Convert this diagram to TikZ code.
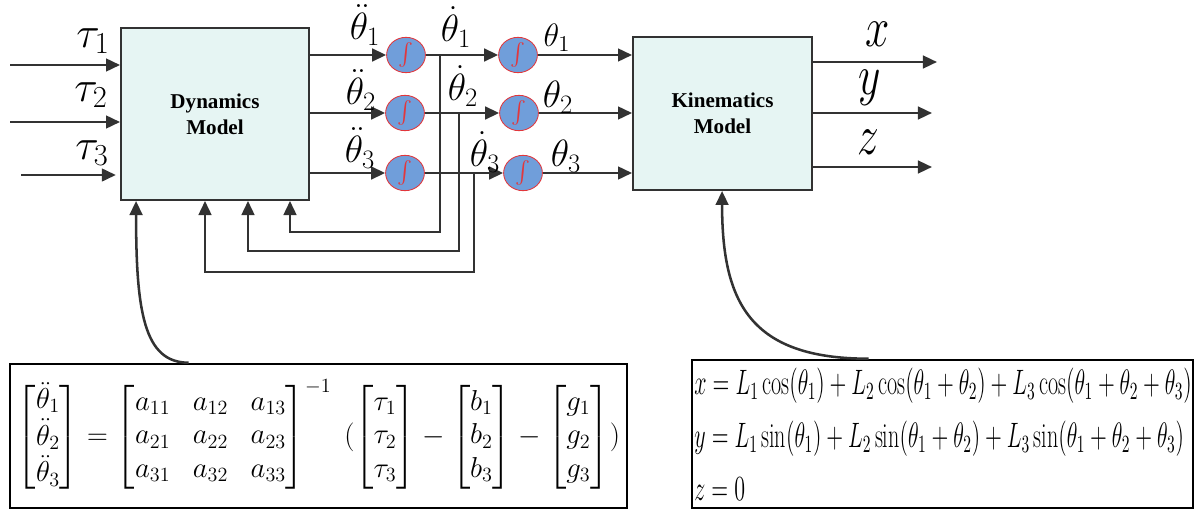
\documentclass[tikz,border=0pt]{standalone}
\usepackage{fix-cm}
\usepackage{amsmath,amssymb}
\usepackage{fontspec}
\newfontfamily\blockfont{Liberation Serif}
\usepackage{tikz}
\usetikzlibrary{shapes,arrows.meta,calc}
\tikzset{
  wire/.style={
    draw=linegray, line width=1.8pt,
    -{Triangle[length=10pt,width=9pt]},
  },
  block/.style={
    draw=linegray, fill=boxfill, line width=1.3pt, inner sep=0pt,
    align=center, font=\blockfont\bfseries\fontsize{15}{18.5}\selectfont,
  },
  integ/.style={
    ellipse, draw=intedge, fill=intfill, line width=0.6pt, inner sep=0pt,
    minimum width=0.97cm, minimum height=0.82cm, text=intedge,
    font=\fontsize{16}{18}\selectfont,
  },
  siglabel/.style={inner sep=0pt, font=\fontsize{31}{35}\selectfont},
  anglabel/.style={inner sep=0pt, font=\fontsize{27}{31}\selectfont},
  eqbox/.style={draw=black, line width=1.8pt, inner sep=0pt},
}

\begin{document}
\begin{tikzpicture}[x=0.025cm, y=-0.025cm]
% Defining colors
\definecolor{linegray}{RGB}{50,50,50}
\definecolor{boxfill}{RGB}{230,245,243}
\definecolor{intfill}{RGB}{112,158,218}
\definecolor{intedge}{RGB}{225,55,60}

\useasboundingbox (0,0) rectangle (1201,512);

% =:=:=:=:=:=:=:=:=:=:=:=:=:=:=:=:=:=:=
% Blocks
% =:=:=:=:=:=:=:=:=:=:=:=:=:=:=:=:=:=:=
\node[block, minimum width=4.7cm, minimum height=4.3cm]
    (dyn) at (215,114) {Dynamics\\Model};
\node[block, minimum width=4.475cm, minimum height=3.825cm]
    (kin) at (722.5,113.5) {Kinematics\\Model};

% integrators
\node[integ] (intA1) at (406,55) {$\int$};
\node[integ] (intA2) at (405,113) {$\int$};
\node[integ] (intA3) at (405,173) {$\int$};
\node[integ] (intB1) at (518,55) {$\int$};
\node[integ] (intB2) at (519,113) {$\int$};
\node[integ] (intB3) at (523,173) {$\int$};

% =:=:=:=:=:=:=:=:=:=:=:=:=:=:=:=:=:=:=
% Torque inputs
% =:=:=:=:=:=:=:=:=:=:=:=:=:=:=:=:=:=:=
\coordinate (tauin1) at (10,65);
\coordinate (tauin2) at (10,122);
\coordinate (tauin3) at (21,175);
\draw[wire] (tauin1) -- (tauin1 -| dyn.west);
\draw[wire] (tauin2) -- (tauin2 -| dyn.west);
\draw[wire] (tauin3) -- ([xshift=-3pt]tauin3 -| dyn.west);

\node[siglabel] (taulab1) at (93,41) {$\tau_1$};
\node[siglabel] (taulab2) at (91,95) {$\tau_2$};
\node[siglabel] (taulab3) at (92,153) {$\tau_3$};

% =:=:=:=:=:=:=:=:=:=:=:=:=:=:=:=:=:=:=
% Integrator chain
% =:=:=:=:=:=:=:=:=:=:=:=:=:=:=:=:=:=:=
\draw[wire] (dyn.east |- intA1) -- (intA1);
\draw[wire] (dyn.east |- intA2) -- (intA2);
\draw[wire] (dyn.east |- intA3) -- (intA3);
\draw[wire] (intA1) -- (intB1);
\draw[wire] (intA2) -- (intB2);
\draw[wire] (intA3) -- (intB3);
\draw[wire] (intB1) -- (intB1 -| kin.west);
\draw[wire] (intB2) -- (intB2 -| kin.west);
\draw[wire] (intB3) -- (intB3 -| kin.west);

\node[anglabel] (accl1) at (365,25) {$\ddot{\theta}_1$};
\node[anglabel] (accl2) at (361,90) {$\ddot{\theta}_2$};
\node[anglabel] (accl3) at (360,148) {$\ddot{\theta}_3$};
\node[anglabel] (vell1) at (456,27) {$\dot{\theta}_1$};
\node[anglabel] (vell2) at (463,86) {$\dot{\theta}_2$};
\node[anglabel] (vell3) at (485,152) {$\dot{\theta}_3$};
\node[anglabel, font=\fontsize{23}{27}\selectfont]
    (posl1) at (557,38) {$\theta_1$};
\node[anglabel] (posl2) at (558,97) {$\theta_2$};
\node[anglabel] (posl3) at (566,156) {$\theta_3$};

% =:=:=:=:=:=:=:=:=:=:=:=:=:=:=:=:=:=:=
% Velocity feedback
% =:=:=:=:=:=:=:=:=:=:=:=:=:=:=:=:=:=:=
\coordinate (br1) at (440,55);
\coordinate (br2) at (459,114);
\coordinate (br3) at (474,174);
\coordinate (fb1) at (290,232);
\coordinate (fb2) at (248,251);
\coordinate (fb3) at (205,272);
\draw[wire] (br1) |- (fb1) -- (fb1 |- dyn.south);
\draw[wire] (br2) |- (fb2) -- (fb2 |- dyn.south);
\draw[wire] (br3) |- (fb3) -- (fb3 |- dyn.south);

% =:=:=:=:=:=:=:=:=:=:=:=:=:=:=:=:=:=:=
% Cartesian outputs
% =:=:=:=:=:=:=:=:=:=:=:=:=:=:=:=:=:=:=
\coordinate (xout) at (937,62);
\coordinate (yout) at (932,113);
\coordinate (zout) at (932,167);
\draw[wire] (kin.east |- xout) -- (xout);
\draw[wire] (kin.east |- yout) -- (yout);
\draw[wire] (kin.east |- zout) -- (zout);

\node[siglabel, yscale=1.3] (xlab) at (878,34) {$x$};
\node[siglabel, yscale=1.3] (ylab) at (870,88) {$y$};
\node[siglabel, yscale=1.3] (zlab) at (868,142) {$z$};

% =:=:=:=:=:=:=:=:=:=:=:=:=:=:=:=:=:=:=
% Equation boxes
% =:=:=:=:=:=:=:=:=:=:=:=:=:=:=:=:=:=:=
\node[eqbox, minimum width=15.425cm, minimum height=3.6cm,
      font=\fontsize{20.5}{24}\selectfont]
    (dyneq) at (318.5,436)
    {\setlength\arraycolsep{8pt}$\displaystyle
      \begin{bmatrix}\ddot{\theta}_1\\ \ddot{\theta}_2\\ \ddot{\theta}_3\end{bmatrix}
      =
      \begin{bmatrix}a_{11} & a_{12} & a_{13}\\ a_{21} & a_{22} & a_{23}\\
                     a_{31} & a_{32} & a_{33}\end{bmatrix}^{-1}
      \;(\begin{bmatrix}\tau_1\\ \tau_2\\ \tau_3\end{bmatrix}
      - \begin{bmatrix}b_1\\ b_2\\ b_3\end{bmatrix}
      - \begin{bmatrix}g_1\\ g_2\\ g_3\end{bmatrix})$};

\node[eqbox, minimum width=12.525cm, minimum height=3.7cm]
    (kineq) at (942.5,434) {};
\node[anchor=west, inner sep=0pt, align=left, yscale=1.6,
      font=\fontsize{15.7}{18.5}\selectfont]
    (kintext) at (694,434)
    {$x = L_1\cos(\theta_1) + L_2\cos(\theta_1+\theta_2) + L_3\cos(\theta_1+\theta_2+\theta_3)$\\[5pt]
     $y = L_1\sin(\theta_1) + L_2\sin(\theta_1+\theta_2) + L_3\sin(\theta_1+\theta_2+\theta_3)$\\[5pt]
     $z = 0$};

% =:=:=:=:=:=:=:=:=:=:=:=:=:=:=:=:=:=:=
% Links from the equations to the blocks
% =:=:=:=:=:=:=:=:=:=:=:=:=:=:=:=:=:=:=
\draw[wire] ($(dyneq.north west)+(180,0)$)
    .. controls ($(dyneq.north west)+(135,0)$) and ($(dyn.south west)+(16,110)$)
    .. ($(dyn.south west)+(16,0)$);
\draw[wire] ($(kineq.north west)+(178,0)$)
    .. controls ($(kineq.north west)+(58,0)$) and ($(kin.south west)+(90,110)$)
    .. ($(kin.south west)+(90,0)$);

\end{tikzpicture}
\end{document}
